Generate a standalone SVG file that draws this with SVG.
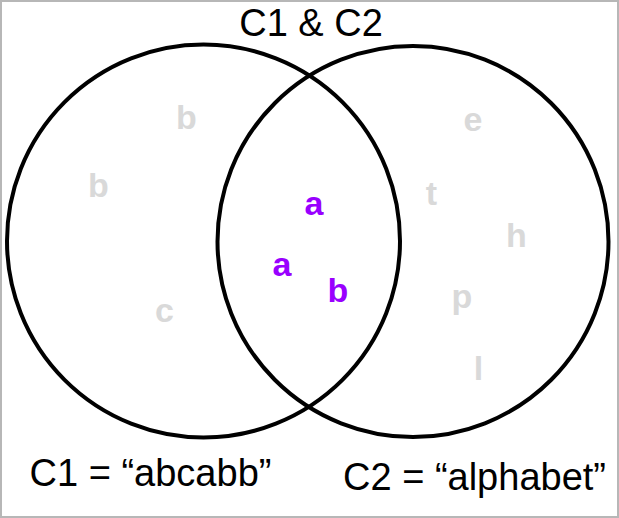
<svg xmlns="http://www.w3.org/2000/svg" width="619" height="518" viewBox="0 0 619 518">
<style>
.frame{fill:#fff;stroke:#b7b7b7;stroke-width:2}
.set{fill:none;stroke:#000;stroke-width:4}
.lbl{font-family:"Liberation Sans",Arial,sans-serif;font-size:38px;fill:#000;text-anchor:middle}
.el{font-family:"Liberation Sans",Arial,sans-serif;font-size:34px;font-weight:bold;fill:#d9d9d9;text-anchor:middle}
.common{fill:#9900ff}
</style>
<rect class="frame" x="1" y="1" width="617" height="516"/>
<g id="C1"><circle class="set" cx="203.5" cy="241" r="196.5"/></g>
<g id="C2"><circle class="set" cx="413" cy="241.5" r="195.5"/></g>
<g id="title"><text class="lbl" x="311" y="36">C1 &amp; C2</text></g>
<g id="label-C1"><text class="lbl" x="150.5" y="486">C1 = “abcabb”</text></g>
<g id="label-C2"><text class="lbl" x="474.5" y="490">C2 = “alphabet”</text></g>
<g id="only-C1">
<text class="el" x="186.5" y="129">b</text>
<text class="el" x="98.5" y="197">b</text>
<text class="el" x="164.5" y="322">c</text>
</g>
<g id="only-C2">
<text class="el" x="473" y="131">e</text>
<text class="el" x="431.5" y="205">t</text>
<text class="el" x="516.5" y="247">h</text>
<text class="el" x="462" y="308">p</text>
<text class="el" x="478.5" y="380">l</text>
</g>
<g id="intersection">
<text class="el common" x="314" y="215">a</text>
<text class="el common" x="282" y="276">a</text>
<text class="el common" x="338" y="302">b</text>
</g>
</svg>
